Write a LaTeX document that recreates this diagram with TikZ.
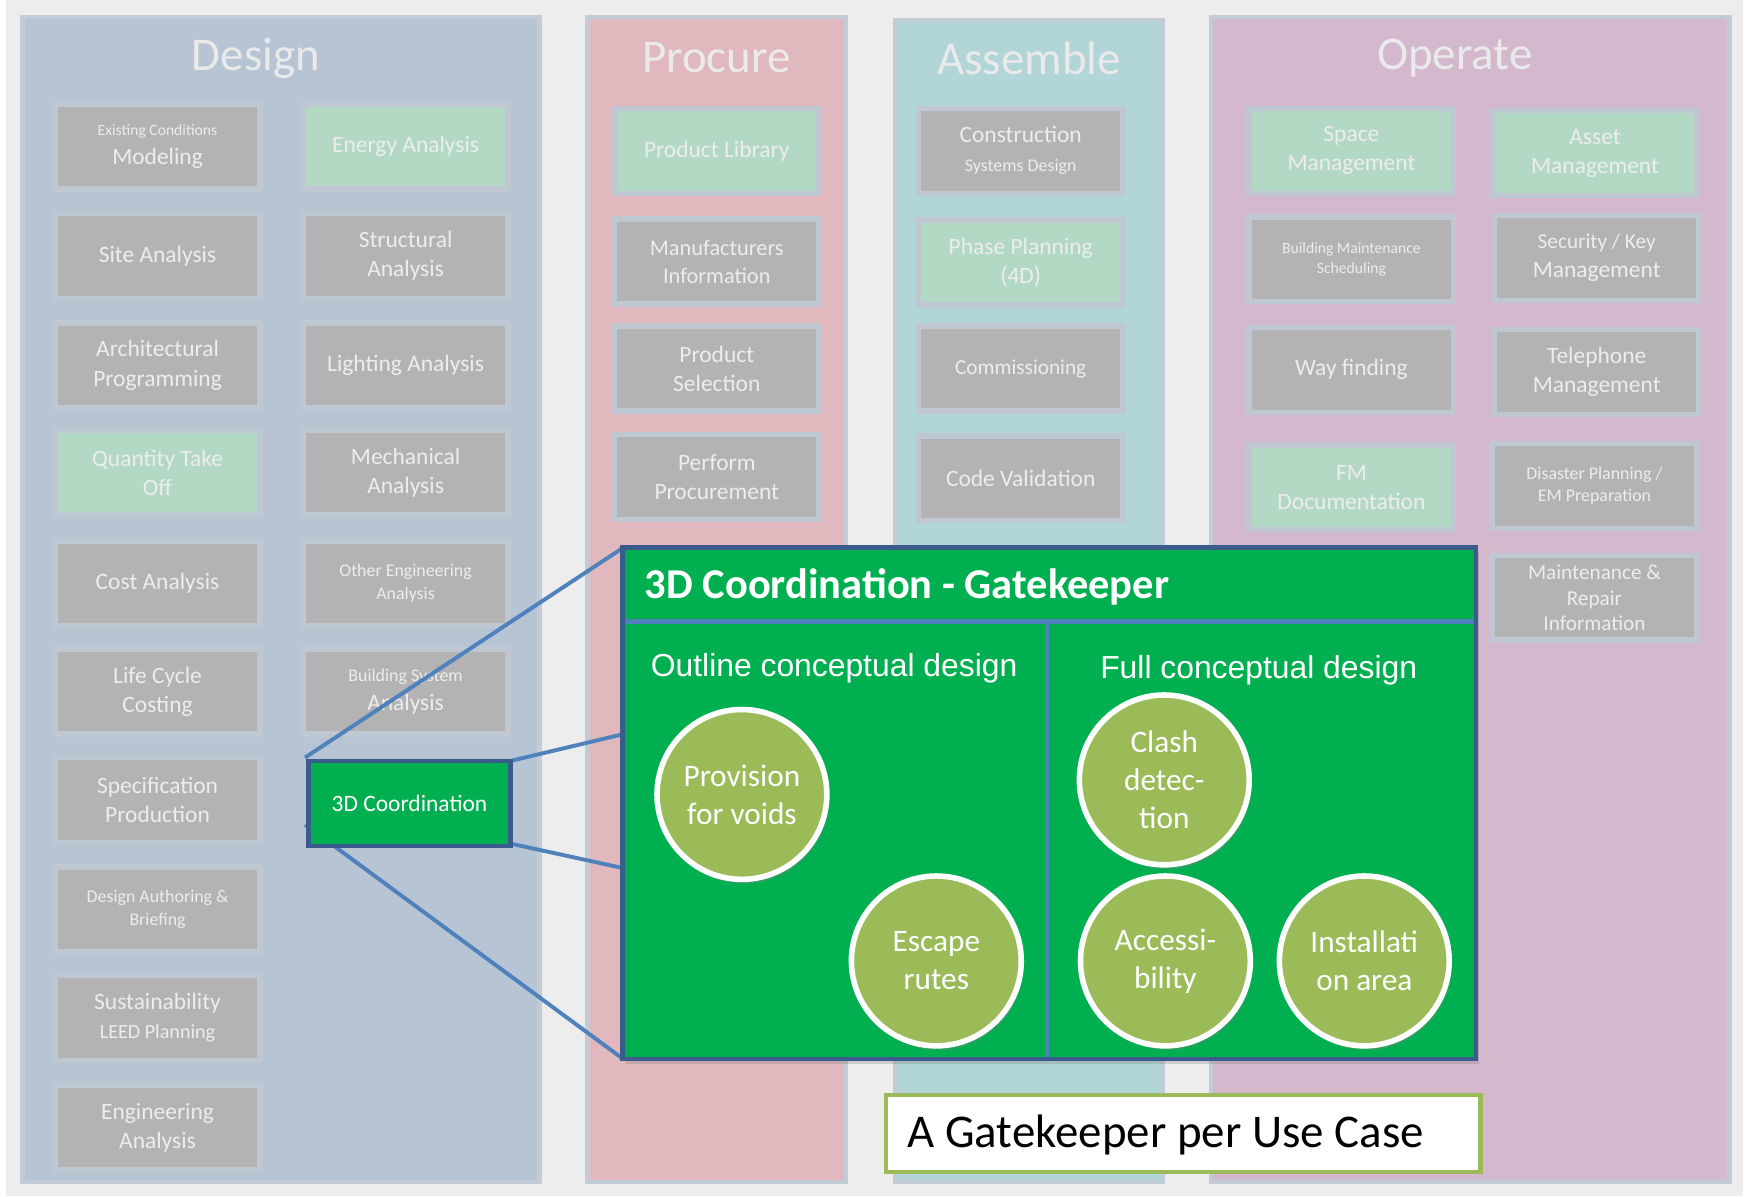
\documentclass[tikz,border=0pt]{standalone}
\usepackage{fontspec}
\setmainfont{Carlito}
\newfontfamily\arialf{Liberation Sans}
\usetikzlibrary{shadows}
\definecolor{bgc}{HTML}{EDEDED}
\definecolor{pline}{HTML}{C3CCD6}
\definecolor{pdesign}{HTML}{B7C4D3}
\definecolor{pprocure}{HTML}{E1B8BE}
\definecolor{passemble}{HTML}{B2D6D8}
\definecolor{poperate}{HTML}{D4B9CE}
\definecolor{boxgray}{HTML}{B3B3B3}
\definecolor{boxgreen}{HTML}{B3D9C5}
\definecolor{halo}{HTML}{BFC8D2}
\definecolor{boxtext}{HTML}{EDEDED}
\definecolor{titlec}{HTML}{EAEAEA}
\definecolor{gkgreen}{HTML}{00B050}
\definecolor{gkborder}{HTML}{3B5B8D}
\definecolor{linkblue}{HTML}{4F81BD}
\definecolor{olive}{HTML}{9BBB59}
\newcommand{\fsz}[2]{\fontsize{#1}{#2}\selectfont}
\tikzset{
  panel/.style={draw=pline, line width=4pt},
  uc/.style={rectangle, fill=boxgray, draw=halo, line width=5pt,
    minimum width=183pt, minimum height=76pt, inner sep=0pt,
    text=boxtext, align=center, font=\fsz{21}{26}},
  ucg/.style={uc, fill=boxgreen},
  ptitle/.style={text=titlec, font=\fsz{42}{50}, inner sep=0pt},
  link/.style={draw=linkblue, line width=3.5pt},
  sep/.style={draw=linkblue, line width=4.5pt},
  circ/.style={circle, fill=olive, draw=white, line width=5pt,
    minimum size=152pt, inner sep=0pt, text=white, align=center,
    font=\fsz{28}{34}, drop shadow={shadow xshift=2pt, shadow yshift=-4pt, opacity=0.35}},
}
\begin{document}
\begin{tikzpicture}[x=1pt, y=-1pt]
\useasboundingbox (0,0) rectangle (1568,1070.4);
\fill[white] (0,0) rectangle (1568,1070.4);
\fill[bgc] (5,0) rectangle (1560,1070.4);

% panels
\filldraw[panel, fill=pdesign] (20,15) rectangle (483,1058);
\filldraw[panel, fill=pprocure] (526,15) rectangle (757,1058);
\filldraw[panel, fill=passemble] (801,18) rectangle (1041,1058);
\filldraw[panel, fill=poperate] (1084,15) rectangle (1548,1058);

\node[ptitle] (tdesign) at (229,52) {Design};
\node[ptitle] (tprocure) at (641,52) {Procure};
\node[ptitle] (tassemble) at (921,52) {Assemble};
\node[ptitle] (toperate) at (1302,52) {Operate};

% Design column 1
\node[uc] (d1) at (141,131) {{\fsz{14}{18}Existing Conditions}\\Modeling};
\node[uc] (d2) at (141,229) {Site Analysis};
\node[uc] (d3) at (141,327) {Architectural\\Programming};
\node[ucg] (d4) at (141,423) {Quantity Take\\Off};
\node[uc] (d5) at (141,522) {Cost Analysis};
\node[uc] (d6) at (141,619) {Life Cycle\\Costing};
\node[uc] (d7) at (141,716) {Specification\\Production};
\node[uc, font=\fsz{16}{21}] (d8) at (141,814) {Design Authoring \&\\Briefing};
\node[uc] (d9) at (141,911) {Sustainability\\{\fsz{18}{22}LEED Planning}};
\node[uc] (d10) at (141,1009) {Engineering\\Analysis};

% Design column 2
\node[ucg] (e1) at (363,131) {Energy Analysis};
\node[uc] (e2) at (363,229) {Structural\\Analysis};
\node[uc] (e3) at (363,327) {Lighting Analysis};
\node[uc] (e4) at (363,423) {Mechanical\\Analysis};
\node[uc, font=\fsz{16}{21}] (e5) at (363,522) {Other Engineering\\Analysis};
\node[uc] (e6) at (363,619) {{\fsz{16}{20}Building System}\\Analysis};

% Procure
\node[ucg] (p1) at (641.5,135) {Product Library};
\node[uc, font=\fsz{20}{25}] (p2) at (641.5,234) {Manufacturers\\Information};
\node[uc] (p3) at (641.5,330) {Product\\Selection};
\node[uc] (p4) at (641.5,427) {Perform\\Procurement};

% Assemble
\node[uc] (a1) at (913.5,135) {Construction\\{\fsz{16}{20}Systems Design}};
\node[ucg] (a2) at (913.5,235) {Phase Planning\\(4D)};
\node[uc, font=\fsz{19}{24}] (a3) at (913.5,330) {Commissioning};
\node[uc] (a4) at (913.5,428) {Code Validation};

% Operate
\node[ucg] (o1) at (1209.5,135) {Space\\Management};
\node[uc, font=\fsz{14}{18}] (o2) at (1209.5,232) {Building Maintenance\\Scheduling};
\node[uc] (o3) at (1209.5,331) {Way finding};
\node[ucg] (o4) at (1209.5,436) {FM\\Documentation};
\node[ucg] (o5) at (1427.5,137) {Asset\\Management};
\node[uc] (o6) at (1429,231) {{\fsz{19}{23}Security / Key}\\Management};
\node[uc] (o7) at (1429,333) {Telephone\\Management};
\node[uc, font=\fsz{16}{20}] (o8) at (1427,435) {Disaster Planning /\\EM Preparation};
\node[uc, font=\fsz{19}{23}] (o9) at (1427,535) {Maintenance \&\\Repair\\Information};

% zoom links
\coordinate (la) at (273,678);
\coordinate (lb) at (273,738);
\coordinate (gka) at (558,657);
\coordinate (gkb) at (558,777);
\coordinate (gktl) at (558,490);
\coordinate (gkbl) at (558,948);
\coordinate (r1) at (457,681);
\coordinate (r2) at (457,755);
\draw[link] (la) -- (gktl);
\draw[link] (lb) -- (gkbl);
\draw[link] (r1) -- (gka);
\draw[link] (r2) -- (gkb);

% 3D coordination box
\node[rectangle, fill=gkgreen, draw=gkborder, line width=4pt, minimum width=181pt,
  minimum height=76pt, inner sep=0pt, text=white, font=\fsz{21}{25}] (c3d) at (366.5,719) {3D Coordination};

% Gatekeeper
\node[rectangle, fill=gkgreen, draw=gkborder, line width=4pt, minimum width=764pt,
  minimum height=458pt, inner sep=0pt,
  drop shadow={shadow xshift=3pt, shadow yshift=-4pt, opacity=0.3}] (gk) at (939,719) {};
\coordinate (hl) at (560,556);
\coordinate (hr) at (1318,556);
\coordinate (vt) at (937,556);
\coordinate (vb) at (937,946);
\draw[sep] (hl) -- (hr);
\draw[link, line width=4pt] (vt) -- (vb);
\node[anchor=west, text=white, inner sep=0pt, font=\bfseries\fsz{38}{44}] (gkt) at (577,525) {3D Coordination - Gatekeeper};
\node[text=white, inner sep=0pt, font=\arialf\fsz{28.5}{34}] (ocd) at (746.5,598) {Outline conceptual design};
\node[text=white, inner sep=0pt, font=\arialf\fsz{28.5}{34}] (fcd) at (1126.5,600) {Full conceptual design};

\node[circ] (c1) at (664,711) {Provision\\for voids};
\node[circ] (c2) at (838,860) {Escape\\rutes};
\node[circ] (c3) at (1042,698) {Clash\\detec-\\tion};
\node[circ] (c4) at (1043,860) {Accessi-\\bility};
\node[circ] (c5) at (1221,860) {Installati\\on area};

% Use case label
\node[rectangle, fill=white, draw=olive, line width=4pt, minimum width=532pt,
  minimum height=69pt, inner sep=0pt] (ucl) at (1059,1014.5) {};
\node[anchor=west, inner sep=0pt, text=black, font=\fsz{42}{48}] (uct) at (812,1016) {A Gatekeeper per Use Case};
\end{tikzpicture}
\end{document}
